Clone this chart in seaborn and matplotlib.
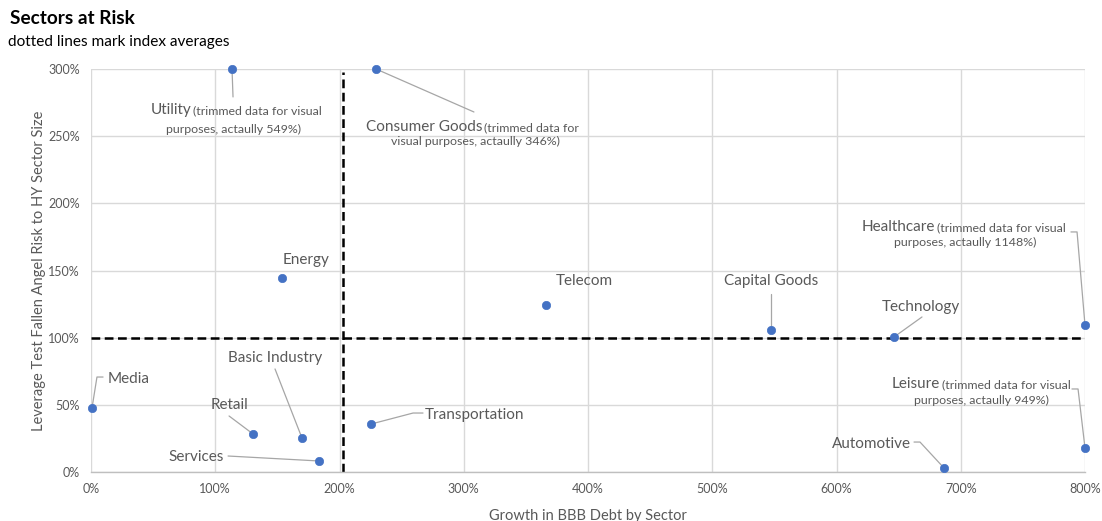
import matplotlib
matplotlib.use("Agg")
import matplotlib.pyplot as plt
from matplotlib.ticker import FuncFormatter
import seaborn as sns
import pandas as pd

# Sector data: growth in BBB debt (%) vs. fallen-angel leverage risk (%)
sectors = ["Utility", "Consumer Goods", "Energy", "Telecom", "Capital Goods",
           "Technology", "Healthcare", "Media", "Retail", "Basic Industry",
           "Services", "Transportation", "Automotive", "Leisure"]
bbb_growth = [113.5, 229.4, 153.7, 366.2, 547.3, 646.3, 800, 0.8, 130.4,
              169.8, 183.5, 225.4, 686.5, 800]
leverage_risk = [300, 300, 144.4, 124.3, 105.7, 100.5, 109.4, 47.6, 28.3,
                 25.3, 8.2, 35.7, 3.0, 17.9]
avg_growth = 202.8
avg_risk = 100

x_ticks = [0, 100, 200, 300, 400, 500, 600, 700, 800]
y_ticks = [0, 50, 100, 150, 200, 250, 300]

df = pd.DataFrame({"sector": sectors, "growth": bbb_growth, "risk": leverage_risk})

sns.set_theme(style="white")
plt.rcParams["font.family"] = ["Lato", "DejaVu Sans"]

TXT = "#595959"
GRID = "#D9D9D9"
DOT = "#4472C4"
LEAD = "#A6A6A6"
BIG = 11
SMALL = 8.9

fig = plt.figure(figsize=(11.02, 5.21), dpi=100)
ax = fig.add_axes([91 / 1102, 1 - 472 / 521, (1085 - 91) / 1102, (472 - 69) / 521])

ax.set_xlim(0, 800)
ax.set_ylim(0, 300)
ax.set_xticks(x_ticks)
ax.set_yticks(y_ticks)
pct = FuncFormatter(lambda v, _: f"{v:.0f}%")
ax.xaxis.set_major_formatter(pct)
ax.yaxis.set_major_formatter(pct)
ax.grid(True, color=GRID, lw=1)
ax.set_axisbelow(True)
for side in ["left", "right", "top"]:
    ax.spines[side].set_visible(False)
ax.spines["bottom"].set_color("#BFBFBF")
ax.spines["bottom"].set_linewidth(1)
ax.tick_params(axis="both", length=0, labelsize=9, colors=TXT, pad=8)

# Index-average reference lines
ax.plot([0, 800], [avg_risk, avg_risk], color="black", lw=1.8, ls=(0, (3.5, 1.8)), zorder=2)
ax.plot([avg_growth, avg_growth], [0, 297.8], color="black", lw=1.8, ls=(0, (3.5, 1.8)), zorder=2)

sns.scatterplot(data=df, x="growth", y="risk", ax=ax, color=DOT, s=36,
                edgecolor=DOT, linewidth=0.5, zorder=4, clip_on=False, legend=False)

ax.set_xlabel("Growth in BBB Debt by Sector", fontsize=10.5, color=TXT, labelpad=10)
ax.set_ylabel("Leverage Test Fallen Angel Risk to HY Sector Size", fontsize=10.5,
              color=TXT, labelpad=1.5)

pos = dict(zip(sectors, zip(bbb_growth, leverage_risk)))


def leader(name, *path):
    px, py = pos[name]
    xs = [px] + [p[0] for p in path]
    ys = [py] + [p[1] for p in path]
    ax.plot(xs, ys, color=LEAD, lw=0.9, zorder=3, clip_on=False)


def simple(name, x, y, ha="center"):
    ax.text(x, y, name, ha=ha, va="center", fontsize=BIG, color=TXT, zorder=5)


def trimmed(name, split, line1, line2, line2_pos):
    sx, sy = split
    ax.text(sx, sy, name, ha="right", va="baseline", fontsize=BIG, color=TXT, zorder=5)
    ax.text(sx + 1.5, sy, line1, ha="left", va="baseline", fontsize=SMALL, color=TXT, zorder=5)
    ax.text(line2_pos[0], line2_pos[1], line2, ha="center", va="baseline",
            fontsize=SMALL, color=TXT, zorder=5)


# Labels with leader lines
trimmed("Utility", (80.5, 266.5), "(trimmed data for visual",
        "purposes, actaully 549%)", (114.3, 252.4))
leader("Utility", (114.3, 279.2))

trimmed("Consumer Goods", (314.7, 253.9), "(trimmed data for",
        "visual purposes, actaully 346%)", (309.1, 243.4))
leader("Consumer Goods", (308.2, 268.0))

trimmed("Healthcare", (679.3, 179.4), "(trimmed data for visual",
        "purposes, actaully 1148%)", (703.4, 168.2))
leader("Healthcare", (793.6, 178.7), (788.7, 178.7))

trimmed("Leisure", (683.3, 62.5), "(trimmed data for visual",
        "purposes, actaully 949%)", (716.3, 50.6))
leader("Leisure", (794.4, 61.8), (789.5, 61.8))

simple("Energy", 173.0, 157.8)
simple("Telecom", 396.8, 142.2)

simple("Capital Goods", 547.3, 142.2)
leader("Capital Goods", (547.3, 132.5))

simple("Technology", 668.0, 122.8)
leader("Technology", (668.8, 115.4))

simple("Automotive", 627.8, 20.8)
leader("Automotive", (667.2, 22.3), (662.4, 22.3))

simple("Media", 13.7, 69.2, ha="left")
leader("Media", (4.8, 70.7), (9.7, 70.7))

simple("Retail", 111.1, 49.9)
leader("Retail", (111.1, 41.7))

simple("Basic Industry", 148.1, 84.9)
leader("Basic Industry", (148.1, 76.7))

simple("Services", 84.5, 11.2)
leader("Services", (110.3, 11.9))

simple("Transportation", 268.8, 42.4, ha="left")
leader("Transportation", (259.2, 43.9), (267.2, 43.9))

fig.text(10 / 1102, 1 - 18 / 521, "Sectors at Risk", fontsize=13.7, fontweight="bold",
         color="black", va="center", ha="left")
fig.text(8 / 1102, 1 - 42 / 521, "dotted lines mark index averages", fontsize=11.1,
         color="black", va="center", ha="left")

fig.savefig("out.png", dpi=100)
